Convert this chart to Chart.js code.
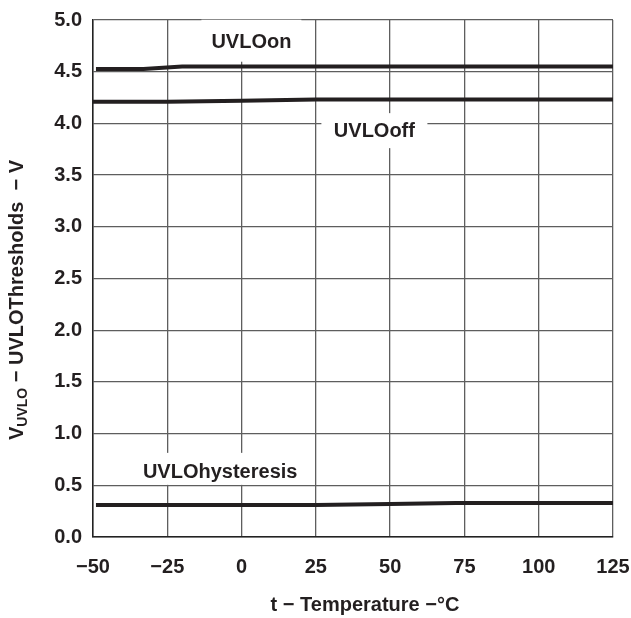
<!DOCTYPE html>
<html>
<head>
<meta charset="utf-8">
<script src="https://cdn.jsdelivr.net/npm/chart.js@4/dist/chart.umd.min.js"></script>
<style>
  html, body { margin: 0; padding: 0; background: #fff; }
  #wrap { width: 631px; height: 618px; }
</style>
</head>
<body>
<div id="wrap"><canvas id="c" width="631" height="618"></canvas></div>
<script>
// Temperature (°C) and threshold voltages (V)
const uvloOnTemp = [-49, -33, -20, 125];
const uvloOnVolt = [4.525, 4.525, 4.55, 4.55];
const uvloOffTemp = [-50, -25, 0, 25, 125];
const uvloOffVolt = [4.21, 4.21, 4.22, 4.23, 4.23];
const hystTemp = [-49, 25, 50, 72, 125];
const hystVolt = [0.31, 0.31, 0.32, 0.33, 0.33];
const xTicks = [-50, -25, 0, 25, 50, 75, 100, 125];
const yTicks = [0, 0.5, 1.0, 1.5, 2.0, 2.5, 3.0, 3.5, 4.0, 4.5, 5.0];
const seriesLabels = ['UVLOon', 'UVLOoff', 'UVLOhysteresis'];

const FONT = 'Liberation Sans, Arial, sans-serif';
const LINE = '#231f20';

function pts(xs, ys) { return xs.map((x, i) => ({ x, y: ys[i] })); }

// Series labels, each on a white box that masks the grid behind it
// (tx, ty: label anchor in data units; w, h, dy: box size and offset in px)
const labelBoxes = [
  { text: seriesLabels[0], tx: 3.3, ty: 4.79, w: 100, h: 42, dy: -1 },
  { text: seriesLabels[1], tx: 44.7, ty: 3.93, w: 106, h: 35, dy: 0 },
  { text: seriesLabels[2], tx: -7.2, ty: 0.63, w: 158, h: 32, dy: -3 }
];

const overlay = {
  id: 'overlay',
  beforeDatasetsDraw(chart) {
    const { ctx, scales: { x, y } } = chart;
    ctx.save();
    ctx.font = 'bold 20px ' + FONT;
    ctx.textAlign = 'center';
    ctx.textBaseline = 'middle';
    labelBoxes.forEach(b => {
      const cx = x.getPixelForValue(b.tx), cy = y.getPixelForValue(b.ty);
      ctx.fillStyle = '#fff';
      ctx.fillRect(cx - b.w / 2, cy + b.dy - b.h / 2, b.w, b.h);
      ctx.fillStyle = LINE;
      ctx.fillText(b.text, cx, cy + 1);
    });
    ctx.restore();
  },
  afterDraw(chart) {
    const { ctx } = chart;
    ctx.save();
    ctx.fillStyle = LINE;
    // x-axis title
    ctx.font = 'bold 20px ' + FONT;
    ctx.textAlign = 'center';
    ctx.textBaseline = 'middle';
    ctx.fillText('t \u2212 Temperature \u2212\u00B0C', 365, 605);
    // y-axis title with subscript
    ctx.translate(17, 300);
    ctx.rotate(-Math.PI / 2);
    const big = 'bold 20px ' + FONT, small = 'bold 14px ' + FONT;
    const parts = [
      { t: 'V', f: big, dy: 0 },
      { t: 'UVLO', f: small, dy: 6 },
      { t: ' \u2212 UVLOThresholds  \u2212 V', f: big, dy: 0 }
    ];
    let total = 0;
    parts.forEach(p => { ctx.font = p.f; p.w = ctx.measureText(p.t).width; total += p.w; });
    let px = -total / 2;
    ctx.textAlign = 'left';
    parts.forEach(p => { ctx.font = p.f; ctx.fillText(p.t, px, p.dy); px += p.w; });
    ctx.restore();
  }
};

const ds = (data) => ({
  data, borderColor: LINE, borderWidth: 4, pointRadius: 0,
  tension: 0, fill: false, clip: false
});

new Chart(document.getElementById('c'), {
  type: 'line',
  data: {
    datasets: [
      ds(pts(uvloOnTemp, uvloOnVolt)),
      ds(pts(uvloOffTemp, uvloOffVolt)),
      ds(pts(hystTemp, hystVolt))
    ]
  },
  options: {
    responsive: false,
    animation: false,
    devicePixelRatio: 1,
    layout: { padding: { top: 20, right: 18, left: 0, bottom: 0 } },
    plugins: { legend: { display: false }, tooltip: { enabled: false } },
    scales: {
      x: {
        type: 'linear', min: -50, max: 125,
        afterBuildTicks(s) { s.ticks = xTicks.map(v => ({ value: v })); },
        afterFit(s) { s.height = 81; s.paddingLeft = 0; s.paddingRight = 0; },
        grid: { color: '#5e5e5e', lineWidth: 1.3, drawTicks: false },
        border: { color: '#222', width: 1.5 },
        ticks: {
          padding: 18, color: LINE, maxRotation: 0,
          font: { family: FONT, size: 20, weight: 'bold' },
          callback: v => v < 0 ? '\u2212' + Math.abs(v) : String(v)
        }
      },
      y: {
        min: 0, max: 5,
        afterBuildTicks(s) { s.ticks = yTicks.map(v => ({ value: v })); },
        afterFit(s) { s.width = 93; s.paddingTop = 0; s.paddingBottom = 0; },
        grid: { color: '#5e5e5e', lineWidth: 1.3, drawTicks: false },
        border: { color: '#222', width: 1.5 },
        ticks: {
          padding: 11, color: LINE,
          font: { family: FONT, size: 20, weight: 'bold' },
          callback: v => v.toFixed(1)
        }
      }
    }
  },
  plugins: [overlay]
});
</script>
</body>
</html>
